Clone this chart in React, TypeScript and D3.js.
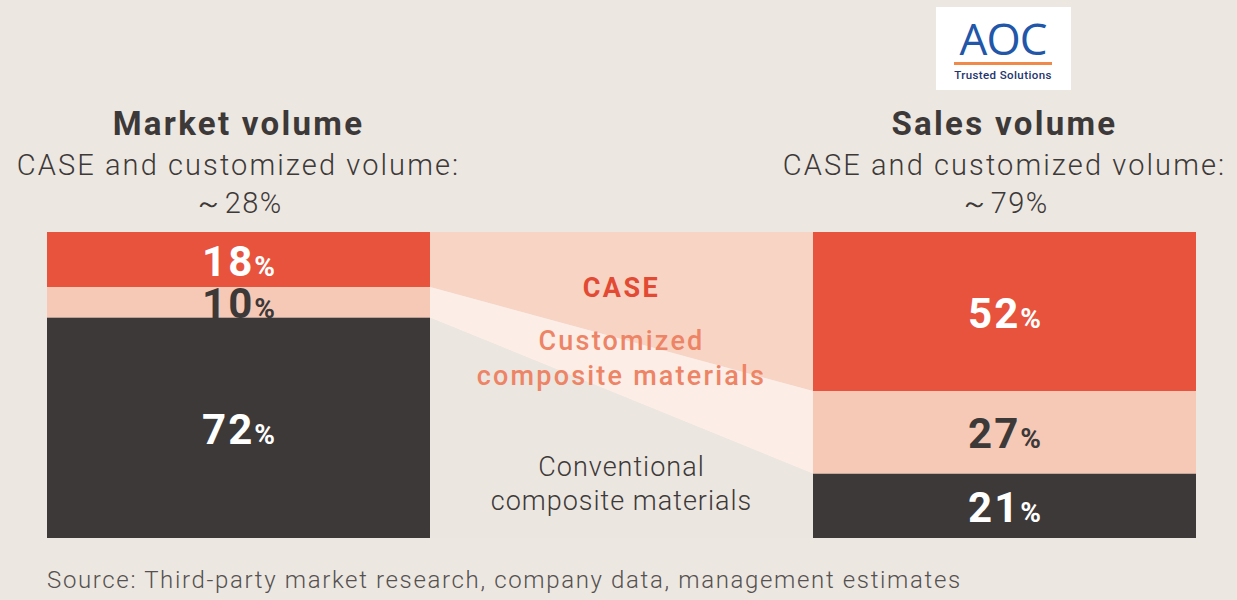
import { useEffect, useRef } from 'react';
import * as d3 from 'd3';

// shares per segment, top to bottom
const segments = ['CASE', 'Customized', 'Conventional'];
const marketShares = [18, 10, 72];
const salesShares = [52, 27, 21];

const panelTitles = ['Market volume', 'Sales volume'];
const panelSubtitle = 'CASE and customized volume:';
const panelTotals = ['～28%', '～79%'];

const bandLabels = [['CASE'], ['Customized', 'composite materials'], ['Conventional', 'composite materials']];
const sourceNote = 'Source: Third-party market research, company data, management estimates';

const W = 1237;
const H = 600;
const FONT = 'Roboto, "Noto Sans", sans-serif';

export default function App() {
	const svgRef = useRef<SVGSVGElement | null>(null);

	useEffect(() => {
		const svg = d3.select(svgRef.current);
		svg.selectAll('*').remove();

		const segFill = ['#E8533D', '#F6C9B6', '#3D3938'];
		const bandFill = ['#F8D4C5', '#FCEEE7', '#EBE6E0'];
		const labelFill = ['#FFFFFF', '#3D3938', '#FFFFFF'];

		const bar = { top: 232, bottom: 538, width: 383 };
		const leftX = 47;
		const rightX = 813;

		const y = d3.scaleLinear().domain([0, 100]).range([bar.top, bar.bottom]);

		const stackOf = (vals: number[]) => {
			const ends = Array.from(d3.cumsum(vals));
			return vals.map((v, i) => ({ v, y0: ends[i] - v, y1: ends[i] }));
		};
		const market = stackOf(marketShares);
		const sales = stackOf(salesShares);

		svg.append('rect').attr('width', W).attr('height', H).attr('fill', '#ECE7E1');

		// connecting bands between the two bars
		const x0 = leftX + bar.width;
		const x1 = rightX;
		const area = d3
			.area<{ x: number; a: number; b: number }>()
			.x((d) => d.x)
			.y0((d) => y(d.a))
			.y1((d) => y(d.b));
		segments.forEach((s, i) => {
			svg
				.append('path')
				.attr(
					'd',
					area([
						{ x: x0, a: market[i].y0, b: market[i].y1 },
						{ x: x1, a: sales[i].y0, b: sales[i].y1 }
					])
				)
				.attr('fill', bandFill[i]);
		});

		// stacked bars, label drawn right after its own segment
		const drawBar = (x: number, stack: { v: number; y0: number; y1: number }[]) => {
			const g = svg.append('g');
			stack.forEach((d, i) => {
				g.append('rect')
					.attr('x', x)
					.attr('y', y(d.y0))
					.attr('width', bar.width)
					.attr('height', y(d.y1) - y(d.y0))
					.attr('fill', segFill[i]);
				const t = g
					.append('text')
					.attr('x', x + bar.width / 2)
					.attr('y', (y(d.y0) + y(d.y1)) / 2 + 16)
					.attr('text-anchor', 'middle')
					.attr('font-family', FONT)
					.attr('font-weight', 700)
					.attr('fill', labelFill[i]);
				t.append('tspan').attr('font-size', 42).attr('letter-spacing', 2).text(d.v);
				t.append('tspan').attr('font-size', 28).text('%');
			});
		};
		drawBar(leftX, market);
		drawBar(rightX, sales);

		// titles above each bar
		[leftX, rightX].forEach((x, i) => {
			const cx = x + bar.width / 2;
			svg.append('text')
				.attr('x', cx)
				.attr('y', 135)
				.attr('text-anchor', 'middle')
				.attr('font-family', FONT)
				.attr('font-weight', 700)
				.attr('font-size', 33)
				.attr('letter-spacing', 2.3)
				.attr('fill', '#3D3938')
				.text(panelTitles[i]);
			svg.append('text')
				.attr('x', cx)
				.attr('y', 175)
				.attr('text-anchor', 'middle')
				.attr('font-family', FONT)
				.attr('font-weight', 300)
				.attr('font-size', 29)
				.attr('letter-spacing', 2.1)
				.attr('fill', '#3D3938')
				.text(panelSubtitle);
			svg.append('text')
				.attr('x', cx)
				.attr('y', 213)
				.attr('text-anchor', 'middle')
				.attr('font-family', FONT)
				.attr('font-weight', 300)
				.attr('font-size', 29)
				.attr('letter-spacing', 1.5)
				.attr('fill', '#3D3938')
				.text(panelTotals[i]);
		});

		// band captions
		const mid = (x0 + x1) / 2;
		const captionStyle = [
			{ fill: '#E34A33', weight: 700, spacing: 2.5, ys: [297] },
			{ fill: '#EE8466', weight: 500, spacing: 2.2, ys: [350, 385] },
			{ fill: '#3D3938', weight: 300, spacing: 1, ys: [476, 510] }
		];
		bandLabels.forEach((lines, i) => {
			lines.forEach((line, j) => {
				svg.append('text')
					.attr('x', mid)
					.attr('y', captionStyle[i].ys[j])
					.attr('text-anchor', 'middle')
					.attr('font-family', FONT)
					.attr('font-weight', captionStyle[i].weight)
					.attr('font-size', 27)
					.attr('letter-spacing', captionStyle[i].spacing)
					.attr('fill', captionStyle[i].fill)
					.text(line);
			});
		});

		svg.append('text')
			.attr('x', 47)
			.attr('y', 588)
			.attr('font-family', FONT)
			.attr('font-weight', 300)
			.attr('font-size', 24)
			.attr('letter-spacing', 1.65)
			.attr('fill', '#555150')
			.text(sourceNote);

		// logo badge
		const logo = svg.append('g').attr('transform', 'translate(936,7)');
		logo.append('rect').attr('width', 135).attr('height', 83).attr('fill', '#FFFFFF');
		logo.append('text')
			.attr('x', 67)
			.attr('y', 48)
			.attr('text-anchor', 'middle')
			.attr('font-family', '"Open Sans", sans-serif')
			.attr('font-weight', 500)
			.attr('font-size', 44)
			.attr('letter-spacing', -1)
			.attr('fill', '#2156A8')
			.text('AOC');
		logo.append('rect').attr('x', 18).attr('y', 55).attr('width', 98).attr('height', 3).attr('fill', '#F08A4B');
		logo.append('text')
			.attr('x', 67)
			.attr('y', 72)
			.attr('text-anchor', 'middle')
			.attr('font-family', FONT)
			.attr('font-weight', 500)
			.attr('font-size', 11.5)
			.attr('letter-spacing', 0.4)
			.attr('fill', '#24356E')
			.text('Trusted Solutions');

		return () => {
			svg.selectAll('*').remove();
		};
	}, []);

	return (
		<svg
			ref={svgRef}
			width={W}
			height={H}
			style={{ position: 'absolute', left: 0, top: 0, display: 'block' }}
		/>
	);
}
